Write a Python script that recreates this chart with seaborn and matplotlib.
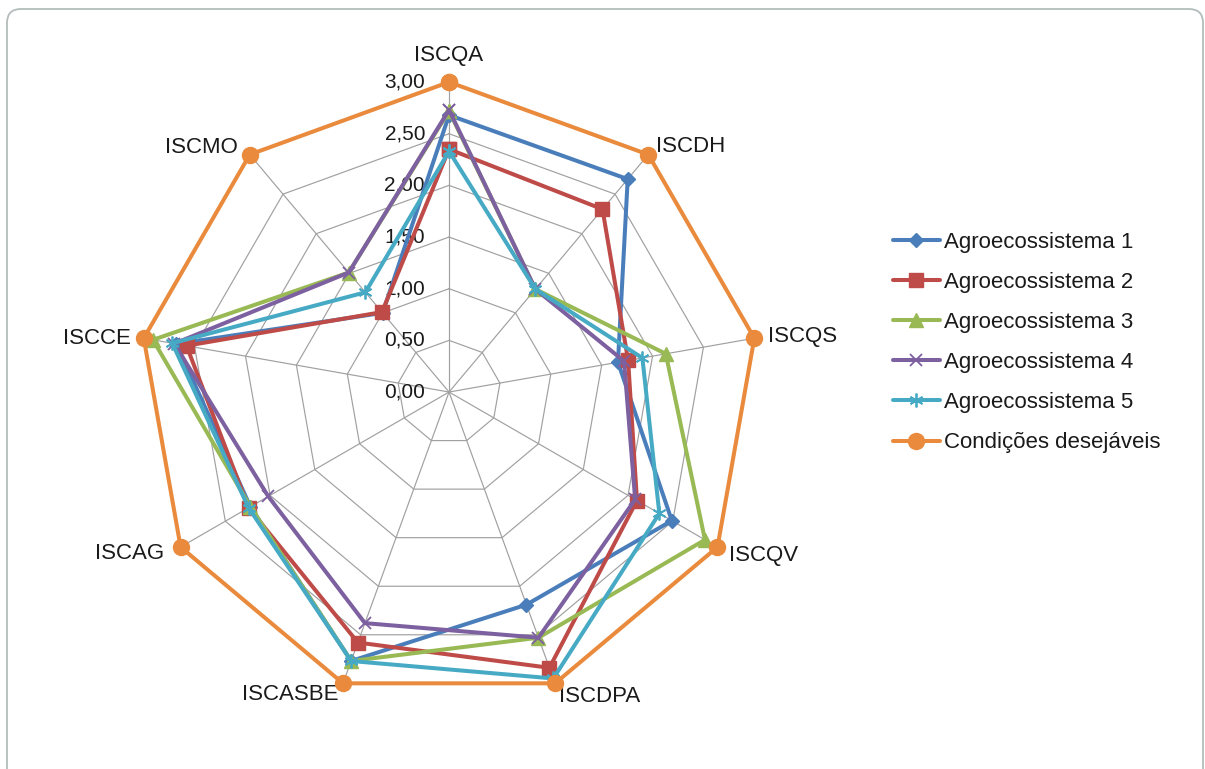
import numpy as np
import pandas as pd
import matplotlib
matplotlib.use("Agg")
import matplotlib.pyplot as plt
import seaborn as sns
from matplotlib.patches import FancyBboxPatch

# Indicator axes (clockwise from the top)
categories = ["ISCQA", "ISCDH", "ISCQS", "ISCQV", "ISCDPA",
              "ISCASBE", "ISCAG", "ISCCE", "ISCMO"]

# Indicator scores per agroecosystem
agro1 = [2.68, 2.69, 1.66, 2.49, 2.19, 2.77, 2.22, 2.68, 1.00]
agro2 = [2.35, 2.31, 1.76, 2.10, 2.84, 2.58, 2.24, 2.58, 1.01]
agro3 = [2.72, 1.30, 2.13, 2.86, 2.53, 2.77, 2.22, 2.91, 1.51]
agro4 = [2.73, 1.30, 1.72, 2.08, 2.53, 2.38, 2.02, 2.70, 1.51]
agro5 = [2.33, 1.30, 1.90, 2.35, 2.95, 2.77, 2.24, 2.72, 1.26]
desired = [3.00, 3.00, 3.00, 3.00, 3.00, 3.00, 3.00, 3.00, 3.00]

series_names = ["Agroecossistema 1", "Agroecossistema 2", "Agroecossistema 3",
                "Agroecossistema 4", "Agroecossistema 5", "Condições desejáveis"]

# Radial scale
tick_values = [0.0, 0.5, 1.0, 1.5, 2.0, 2.5, 3.0]
tick_labels = ["0,00", "0,50", "1,00", "1,50", "2,00", "2,50", "3,00"]

colors = ["#4A7EBB", "#BE4B48", "#98B954", "#7D60A0", "#46AAC5", "#E98A3C"]
markers = ["D", "s", "^", "x", (6, 2, 0), "o"]
msizes = [7, 10.5, 9.5, 8, 10, 11.5]
mews = [1, 1, 1, 1.3, 1.3, 1]

sns.set_theme(style="white")
plt.rcParams["font.family"] = ["Liberation Sans", "DejaVu Sans"]

fig = plt.figure(figsize=(12.05, 7.69), dpi=100)
fig.patch.set_facecolor("white")

# Rounded chart-area border
border = FancyBboxPatch((7, -20), 1196, 780, boxstyle="round,pad=0,rounding_size=14",
                        transform=None, facecolor="none", edgecolor="#B4BCBC",
                        linewidth=1.3, zorder=0)
fig.patches.append(border)

ax = fig.add_axes([0.1154, 0.0871, 0.5145, 0.8062], projection="polar")
ax.set_theta_zero_location("N")
ax.set_theta_direction(-1)
ax.set_ylim(0, 3)
ax.grid(False)
ax.set_xticks([])
ax.set_yticks([])
ax.spines["polar"].set_visible(False)
ax.patch.set_alpha(0)

n = len(categories)
theta = np.arange(n) * 2 * np.pi / n
theta_closed = np.append(theta, 2 * np.pi)

# Polygonal web: rings and spokes
grid_col = "#A0A0A0"
for lvl in tick_values[1:]:
    ax.plot(theta_closed, [lvl] * (n + 1), color=grid_col, lw=0.85, zorder=1, clip_on=False)
for t in theta:
    ax.plot([t, t], [0, 3], color=grid_col, lw=0.85, zorder=1, clip_on=False)

# Radial value labels along the top spoke
for v, lab in zip(tick_values, tick_labels):
    ax.annotate(lab, xy=(0, v), xytext=(-24, 0), textcoords="offset pixels",
                ha="right", va="center", fontsize=15, color="#1A1A1A",
                annotation_clip=False, zorder=2)

all_series = [agro1, agro2, agro3, agro4, agro5, desired]
for i, (name, vals) in enumerate(zip(series_names, all_series)):
    df = pd.DataFrame({"theta": theta_closed, "value": list(vals) + [vals[0]]})
    sns.lineplot(data=df, x="theta", y="value", ax=ax, sort=False, estimator=None,
                 color=colors[i], linewidth=2.9, marker=markers[i], markersize=msizes[i],
                 markeredgecolor=colors[i], markeredgewidth=mews[i],
                 label=name, clip_on=False, zorder=3 + i)

ax.set_xlabel("")
ax.set_ylabel("")
ax.set_ylim(0, 3)

# Category labels around the web
label_offsets = [(0, 27, "center"), (8, 8, "left"), (14, 2, "left"), (12, -8, "left"),
                 (4, -13, "left"), (-5, -11, "right"), (-16, -6, "right"),
                 (-13, 0, "right"), (-12, 7, "right")]
for t, cat, (dx, dy, ha) in zip(theta, categories, label_offsets):
    ax.annotate(cat, xy=(t, 3), xytext=(dx, dy), textcoords="offset pixels",
                ha=ha, va="center", fontsize=16, color="#1A1A1A",
                annotation_clip=False)

handles, labels = ax.get_legend_handles_labels()
if ax.get_legend() is not None:
    ax.get_legend().remove()
fig.legend(handles, labels, loc="center left", bbox_to_anchor=(893 / 1205, 1 - 342.5 / 769),
           frameon=False, fontsize=16, handlelength=2.1, handletextpad=0.2,
           labelspacing=0.86, borderpad=0, borderaxespad=0, labelcolor="#1A1A1A")

fig.savefig("out.png", dpi=100)
